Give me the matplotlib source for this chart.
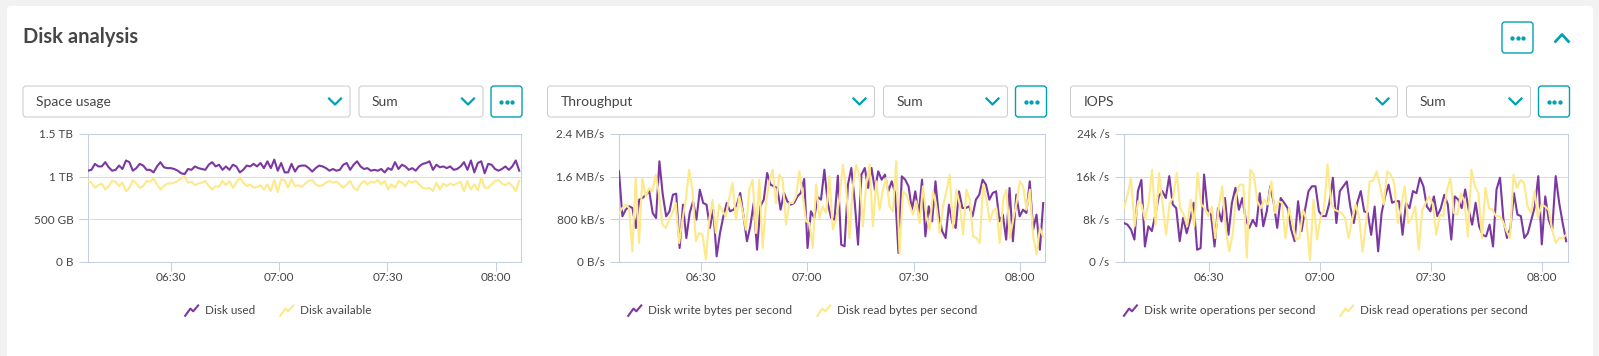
import numpy as np
import pandas as pd
import matplotlib
matplotlib.use("Agg")
import matplotlib.pyplot as plt
import matplotlib.dates as mdates
from matplotlib.patches import FancyBboxPatch
from matplotlib.lines import Line2D
from matplotlib.transforms import IdentityTransform
from matplotlib.legend_handler import HandlerBase

plt.rcParams['font.family'] = ['Lato', 'DejaVu Sans']

# ---- data (1 min resolution) ----
disk_used_tb = [1.07, 1.08, 1.15, 1.12, 1.12, 1.17, 1.11, 1.07, 1.08, 1.13, 1.09, 1.19, 1.17, 1.07, 1.10,
                1.15, 1.13, 1.08, 1.08, 1.05, 1.12, 1.17, 1.11, 1.10, 1.10, 1.09, 1.07, 1.04, 1.03, 1.09,
                1.08, 1.12, 1.10, 1.09, 1.08, 1.14, 1.17, 1.12, 1.14, 1.08, 1.12, 1.08, 1.14, 1.12, 1.05,
                1.08, 1.13, 1.12, 1.15, 1.12, 1.16, 1.10, 1.18, 1.10, 1.20, 1.07, 1.16, 1.05, 1.05, 1.15,
                1.06, 1.12, 1.13, 1.13, 1.10, 1.06, 1.10, 1.13, 1.12, 1.10, 1.07, 1.09, 1.07, 1.08, 1.14,
                1.16, 1.08, 1.14, 1.18, 1.12, 1.09, 1.10, 1.07, 1.08, 1.07, 1.09, 1.05, 1.10, 1.08, 1.17,
                1.09, 1.14, 1.12, 1.08, 1.10, 1.07, 1.12, 1.15, 1.16, 1.18, 1.08, 1.14, 1.11, 1.12, 1.10,
                1.12, 1.08, 1.09, 1.12, 1.17, 1.08, 1.19, 1.05, 1.16, 1.18, 1.04, 1.15, 1.14, 1.09, 1.07,
                1.09, 1.12, 1.08, 1.12, 1.19, 1.07]
disk_available_tb = [0.95, 0.93, 0.87, 0.90, 0.92, 0.85, 0.89, 0.95, 0.94, 0.89, 0.93, 0.83, 0.87, 0.96, 0.92,
                     0.87, 0.89, 0.95, 0.94, 0.98, 0.91, 0.85, 0.89, 0.92, 0.92, 0.93, 0.95, 0.98, 1.00, 0.93,
                     0.94, 0.90, 0.92, 0.93, 0.95, 0.89, 0.85, 0.89, 0.88, 0.95, 0.90, 0.95, 0.87, 0.93, 0.99,
                     0.93, 0.89, 0.91, 0.87, 0.88, 0.90, 0.85, 0.91, 0.83, 0.96, 0.82, 0.97, 0.96, 0.87, 0.97,
                     0.89, 0.90, 0.88, 0.92, 0.95, 0.96, 0.91, 0.89, 0.90, 0.93, 0.95, 0.93, 0.94, 0.91, 0.87,
                     0.91, 0.95, 0.87, 0.84, 0.91, 0.95, 0.91, 0.94, 0.93, 0.96, 0.91, 0.95, 0.85, 0.91, 0.87,
                     0.95, 0.93, 0.89, 0.95, 0.93, 0.95, 0.91, 0.87, 0.86, 0.87, 0.83, 0.93, 0.85, 0.92, 0.89,
                     0.92, 0.90, 0.92, 0.94, 0.83, 0.95, 0.85, 0.91, 0.84, 0.99, 0.87, 0.87, 0.91, 0.95, 0.96,
                     0.92, 0.90, 0.93, 0.89, 0.83, 0.95]

write_kbps = [1700, 856, 981, 1044, 1012, 638, 1169, 1200, 1262, 1325, 919, 825, 1888, 1262, 856,
              950, 1262, 1281, 262, 1075, 450, 919, 1138, 794, 1356, 1106, 1075, 638, 981, 106,
              544, 856, 1106, 950, 981, 1075, 1294, 856, 388, 669, 1106, 231, 1044, 1169, 1669,
              1450, 1419, 1388, 981, 1294, 1138, 1075, 1106, 1231, 1294, 1556, 262, 950, 825, 1219,
              1169, 1731, 1106, 825, 794, 1619, 325, 294, 1450, 1763, 1138, 325, 1638, 1763, 1388,
              1763, 1356, 1700, 1544, 1638, 1325, 1513, 1294, 169, 1606, 1544, 1419, 981, 1325, 888,
              1544, 481, 1044, 763, 1513, 856, 575, 450, 1075, 731, 638, 1325, 1012, 1012, 1044,
              856, 1169, 1262, 1544, 1450, 1169, 1294, 1325, 763, 888, 419, 1388, 388, 1262, 856,
              981, 919, 1513, 606, 888, 231, 1106]
read_kbps = [919, 1012, 1075, 1012, 200, 1575, 356, 1575, 1231, 1388, 1325, 1638, 1262, 700, 638,
             794, 919, 1106, 356, 794, 1169, 1731, 1356, 388, 544, 513, 44, 794, 1169, 544,
             1075, 950, 856, 1200, 1481, 794, 1231, 950, 606, 1356, 1544, 544, 1544, 262, 1106,
             1513, 1731, 1106, 1638, 1544, 700, 1106, 1106, 1231, 1700, 1262, 763, 731, 262, 1450,
             825, 1044, 919, 1606, 606, 794, 1200, 1825, 1388, 450, 1419, 1825, 1606, 669, 1450,
             1825, 669, 1513, 981, 1356, 1575, 1044, 950, 1888, 169, 1325, 1262, 1075, 888, 1138,
             731, 1419, 856, 606, 1325, 1044, 544, 1044, 1325, 1638, 638, 1356, 1075, 513, 1356,
             1169, 481, 450, 356, 1450, 1169, 763, 950, 1012, 356, 1169, 1356, 450, 794, 1106,
             1513, 1419, 981, 1356, 481, 138, 638, 469]

write_ops_k = [7.3, 7.0, 6.1, 4.2, 13.3, 15.4, 2.9, 6.7, 5.8, 8.9, 12.3, 13.3, 12.0, 16.1, 10.8,
               10.1, 3.9, 8.3, 5.4, 7.9, 11.1, 2.3, 2.6, 16.4, 9.8, 8.9, 2.9, 10.1, 7.6, 12.0,
               5.1, 11.1, 13.9, 9.8, 12.0, 7.9, 6.4, 7.9, 6.7, 12.9, 6.7, 9.5, 14.2, 11.1, 6.4,
               12.0, 11.1, 10.1, 6.1, 3.9, 11.4, 5.8, 9.8, 13.3, 14.2, 14.2, 9.5, 8.6, 8.6, 11.1,
               15.8, 7.3, 13.3, 14.2, 15.1, 10.4, 7.3, 11.1, 13.3, 9.5, 9.2, 5.1, 10.4, 2.0, 9.2,
               12.3, 14.5, 11.1, 11.4, 11.4, 5.1, 11.1, 10.1, 13.3, 12.9, 15.8, 14.2, 10.4, 9.5, 12.3,
               8.6, 10.1, 12.6, 10.8, 4.2, 12.3, 11.7, 10.1, 13.6, 9.8, 7.0, 11.1, 6.7, 5.1, 4.8,
               7.0, 2.9, 13.6, 15.8, 7.9, 4.5, 6.4, 12.9, 8.9, 8.6, 4.5, 5.4, 7.9, 10.4, 16.1,
               3.3, 12.3, 7.9, 6.1, 16.1, 11.1, 7.3, 3.9]
read_ops_k = [10.1, 12.6, 15.8, 6.7, 11.4, 10.8, 7.9, 11.1, 17.3, 7.0, 16.7, 10.8, 5.1, 11.1, 12.0,
              16.7, 10.1, 8.9, 6.7, 11.7, 6.7, 16.7, 10.8, 10.1, 8.6, 10.4, 4.5, 10.4, 14.2, 6.1,
              2.0, 5.4, 12.6, 14.5, 14.5, 0.8, 17.3, 16.4, 11.4, 10.1, 11.7, 10.8, 15.1, 9.2, 11.4,
              11.1, 4.5, 10.1, 7.3, 4.2, 4.5, 9.8, 7.9, 0.4, 11.7, 4.2, 8.3, 9.8, 18.3, 11.1,
              9.8, 9.5, 9.2, 8.3, 4.5, 7.9, 10.8, 8.3, 1.9, 7.6, 15.1, 15.3, 17.0, 14.2, 10.8,
              17.0, 16.4, 14.8, 7.3, 10.4, 14.2, 7.3, 8.3, 10.4, 2.3, 9.8, 11.1, 12.3, 10.8, 5.1,
              8.9, 8.6, 13.3, 15.8, 9.2, 8.9, 12.9, 11.4, 4.8, 17.3, 14.2, 12.9, 4.5, 13.9, 10.1,
              9.8, 8.6, 8.6, 7.6, 5.8, 4.5, 16.4, 13.9, 15.4, 14.8, 10.4, 9.2, 13.3, 8.3, 10.8,
              10.4, 9.8, 6.1, 3.6, 4.5, 4.5, 5.1]

panel_titles = ['Space usage', 'Throughput', 'IOPS']
legend_labels = [['Disk used', 'Disk available'],
                 ['Disk write bytes per second', 'Disk read bytes per second'],
                 ['Disk write operations per second', 'Disk read operations per second']]
y_ticks = [[0, 0.5, 1.0, 1.5], [0, 800, 1600, 2400], [0, 8, 16, 24]]
y_tick_labels = [['0 B', '500 GB', '1 TB', '1.5 TB'],
                 ['0 B/s', '800 kB/s', '1.6 MB/s', '2.4 MB/s'],
                 ['0 /s', '8k /s', '16k /s', '24k /s']]
series = [(disk_used_tb, disk_available_tb), (write_kbps, read_kbps), (write_ops_k, read_ops_k)]

PURPLE = '#7c38a1'
YELLOW = '#fde98a'
TEAL = '#00a1b2'
TXT = '#454646'
SPINE = '#c6cee1'
GRID = '#dcdcdc'

W, H = 1599, 356
PX = IdentityTransform()
fig = plt.figure(figsize=(W / 100, H / 100), dpi=100, facecolor='#f2f2f2')


def box(x0, y0, x1, y1, ec, lw=0.75, r=3, fc='white', z=1):
    fig.add_artist(FancyBboxPatch((x0, H - y1), x1 - x0, y1 - y0,
                                  boxstyle=f"round,pad=0,rounding_size={r}",
                                  ec=ec, fc=fc, lw=lw, transform=PX, zorder=z))


def chevron(cx, cy, up=False, half=6, h=6, lw=1.6):
    d = -h / 2 if up else h / 2
    fig.add_artist(Line2D([cx - half, cx, cx + half], [H - cy + d, H - cy - d, H - cy + d],
                          color=TEAL, lw=lw, transform=PX))


def more_button(x0, y0):
    box(x0, y0, x0 + 31, y0 + 31, TEAL, lw=1.0)
    cx, cy = x0 + 15.5, H - (y0 + 15.5)
    fig.add_artist(Line2D([cx - 5.5, cx, cx + 5.5], [cy] * 3, ls='none', marker='o', ms=2.1,
                          color=TEAL, mec=TEAL, transform=PX))


class ZigZag(HandlerBase):
    def create_artists(self, legend, orig_handle, xdescent, ydescent, width, height, fontsize, trans):
        fx = np.array([0.0, 0.4, 0.62, 1.0])
        fy = np.array([-0.1, 0.7, 0.4, 1.05])
        line = Line2D(fx * width - xdescent, fy * height - ydescent,
                      color=orig_handle.get_color(), lw=1.5)
        line.set_transform(trans)
        return [line]


# card + header (card sits below the axes)
box(7, 6, 1593, 400, 'none', r=4, z=-10)
fig.text(23, H - 37, 'Disk analysis', transform=PX, fontsize=14.5, fontweight='bold',
         color=TXT, va='center', ha='left')
more_button(1502, 22)
chevron(1562, 38, up=True, half=6.5, h=7, lw=2)

col_x = [23, 547.5, 1070.5]
axes_x = [(88, 521), (619, 1045), (1124, 1568)]
t0 = pd.Timestamp('2024-01-01 06:07')
t1 = pd.Timestamp('2024-01-01 08:07')
t_end = pd.Timestamp('2024-01-01 08:06:30')

for i in range(3):
    cx = col_x[i]
    # selectors
    box(cx, 86, cx + 327, 117, '#cccccc')
    fig.text(cx + 13, H - 101.5, panel_titles[i], transform=PX, fontsize=10, color=TXT,
             va='center', ha='left')
    chevron(cx + 327 - 15, 101.5)
    box(cx + 336, 86, cx + 460, 117, '#cccccc')
    fig.text(cx + 349, H - 101.5, 'Sum', transform=PX, fontsize=10, color=TXT,
             va='center', ha='left')
    chevron(cx + 460 - 15, 101.5)
    more_button(cx + 468, 86)

    # chart
    x0, x1 = axes_x[i]
    ax = fig.add_axes([x0 / W, 1 - 262 / H, (x1 - x0) / W, 128 / H])
    ax.set_facecolor('white')
    a, b = series[i]
    ta = pd.date_range(t0, t_end, periods=len(a))
    tb = pd.date_range(t0, t_end, periods=len(b))
    ax.plot(ta, a, color=PURPLE, lw=1.5, zorder=3)
    ax.plot(tb, b, color=YELLOW, lw=1.5, zorder=3)
    ax.set_xlim(t0.to_pydatetime(), t1.to_pydatetime())
    ax.set_ylim(y_ticks[i][0], y_ticks[i][-1])
    ax.set_yticks(y_ticks[i])
    ax.set_yticklabels(y_tick_labels[i])
    ax.xaxis.set_major_locator(mdates.MinuteLocator(byminute=[0, 30]))
    ax.xaxis.set_major_formatter(mdates.DateFormatter('%H:%M'))
    ax.grid(axis='y', color=GRID, lw=0.75)
    ax.set_axisbelow(True)
    for s in ax.spines.values():
        s.set_color(SPINE)
        s.set_linewidth(0.75)
    ax.tick_params(length=6.5, width=0.75, color=SPINE, labelsize=8.5, labelcolor=TXT)
    ax.tick_params(axis='y', pad=4)
    ax.tick_params(axis='x', pad=1)

    # legend
    handles = [Line2D([], [], color=PURPLE), Line2D([], [], color=YELLOW)]
    fig.legend(handles, legend_labels[i], loc='center',
               bbox_to_anchor=((cx + 249.5 + 6) / W, 1 - 311 / H), ncol=2, frameon=False,
               fontsize=8.5, handlelength=1.1, handleheight=0.8, handletextpad=0.6,
               columnspacing=2.1, labelcolor=TXT, borderpad=0,
               handler_map={Line2D: ZigZag()})

fig.savefig('out.png', dpi=100, facecolor=fig.get_facecolor())
